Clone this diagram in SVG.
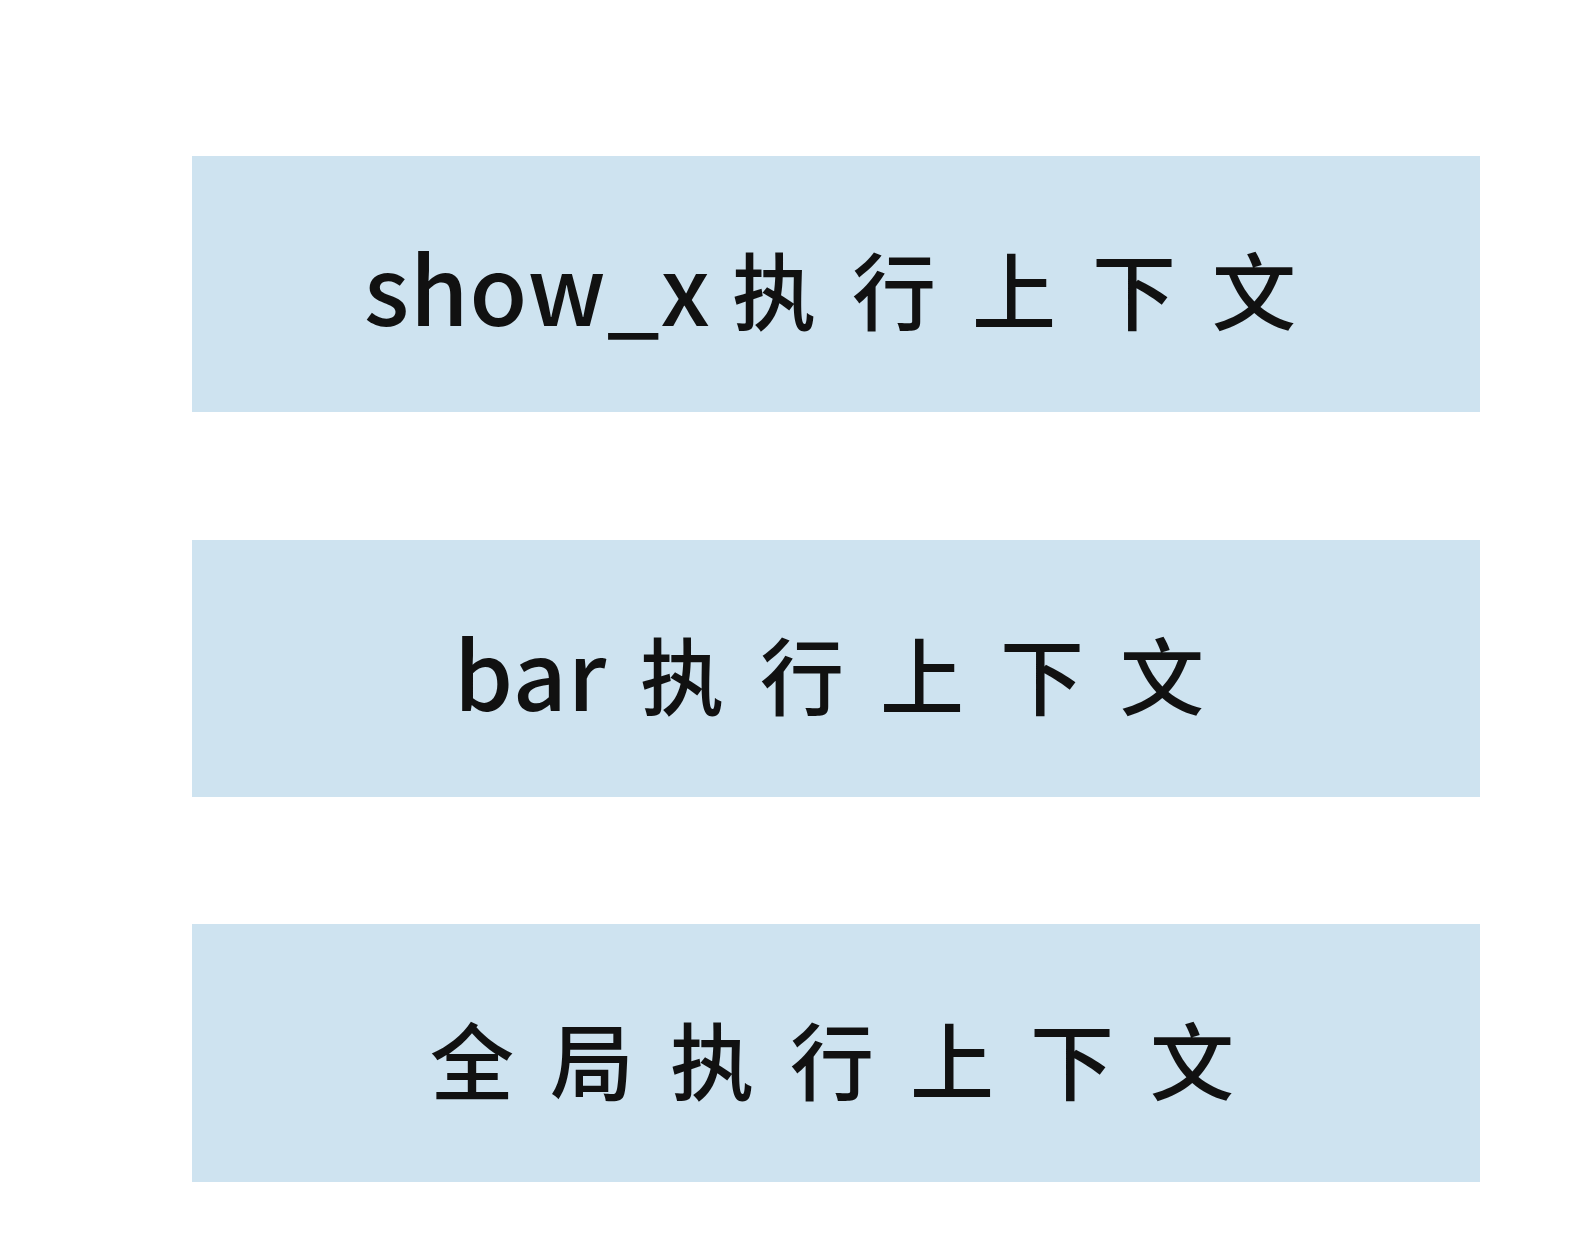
<svg xmlns="http://www.w3.org/2000/svg" width="1574" height="1244" viewBox="0 0 1574 1244">
<style>
.box{fill:#cee3f0}
.t{font-family:"Noto Sans CJK SC","Noto Sans",sans-serif;fill:#111;font-weight:500}
.l{font-size:94px;letter-spacing:1px}
.c{font-size:84px;letter-spacing:36px}
</style>
<rect width="1574" height="1244" fill="#ffffff"/>
<g id="node-show_x">
<rect class="box" x="192" y="156" width="1288" height="256"/>
<text class="t" y="326"><tspan class="l" x="364">show_x</tspan><tspan class="c" x="732" y="324">执行上下文</tspan></text>
</g>
<g id="node-bar">
<rect class="box" x="192" y="540" width="1288" height="257"/>
<text class="t" y="711"><tspan class="l" x="454">bar</tspan><tspan class="c" x="640" y="709">执行上下文</tspan></text>
</g>
<g id="node-global">
<rect class="box" x="192" y="924" width="1288" height="258"/>
<text class="t" y="1094"><tspan class="c" x="430">全局执行上下文</tspan></text>
</g>
<g id="connectors"></g>
</svg>
